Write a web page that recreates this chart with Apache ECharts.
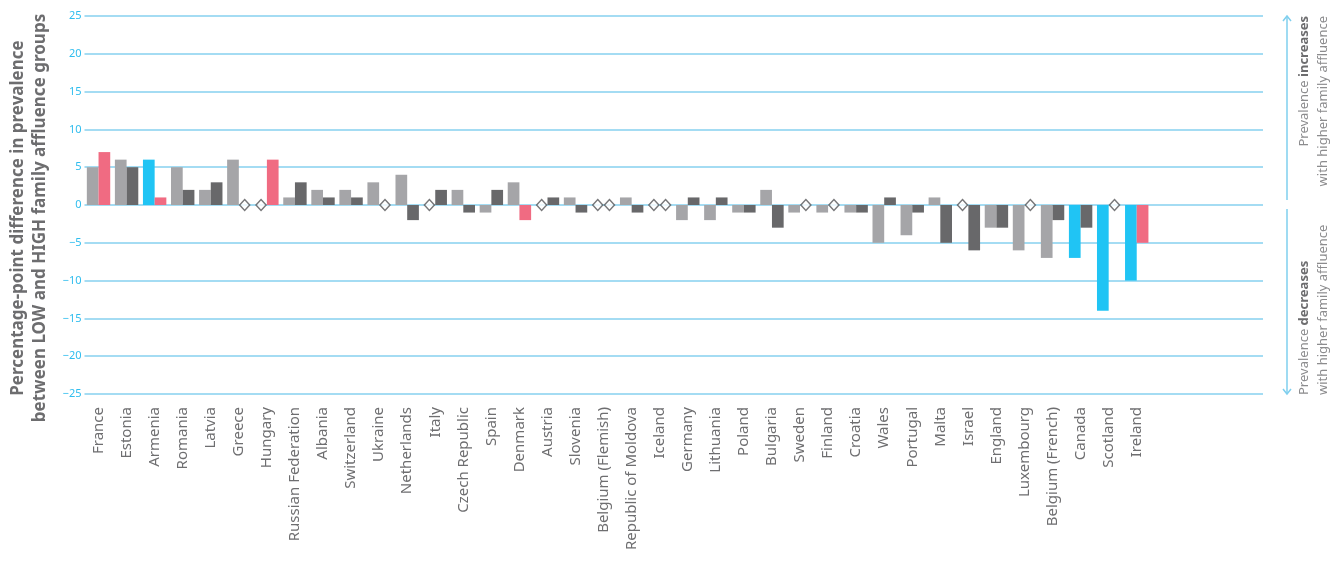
<!DOCTYPE html>
<html>
<head>
<meta charset="utf-8">
<script src="https://cdn.jsdelivr.net/npm/echarts@6/dist/echarts.min.js"></script>
<style>
  html, body { margin: 0; padding: 0; background: #fff; }
  #charts { width: 1341px; height: 570px; }
</style>
</head>
<body>
<div id="charts"></div>
<script>
var countries = ['France', 'Estonia', 'Armenia', 'Romania', 'Latvia', 'Greece', 'Hungary',
  'Russian Federation', 'Albania', 'Switzerland', 'Ukraine', 'Netherlands', 'Italy',
  'Czech Republic', 'Spain', 'Denmark', 'Austria', 'Slovenia', 'Belgium (Flemish)',
  'Republic of Moldova', 'Iceland', 'Germany', 'Lithuania', 'Poland', 'Bulgaria', 'Sweden',
  'Finland', 'Croatia', 'Wales', 'Portugal', 'Malta', 'Israel', 'England', 'Luxembourg',
  'Belgium (French)', 'Canada', 'Scotland', 'Ireland'];

// first bar of each pair (light grey, blue when significant)
var boys = [5, 6, 6, 5, 2, 6, 0, 1, 2, 2, 3, 4, 0, 2, -1, 3, 0, 1, 0, 1, 0, -2, -2, -1, 2, -1,
  -1, -1, -5, -4, 1, 0, -3, -6, -7, -7, -14, -10];
// second bar of each pair (dark grey, pink when significant)
var girls = [7, 5, 1, 2, 3, 0, 6, 3, 1, 1, 0, -2, 2, -1, 2, -2, 1, -1, 0, -1, 0, 1, 1, -1, -3, 0,
  0, -1, 1, -1, -5, -6, -3, 0, -2, -3, 0, -5];

var boysSig = ['Armenia', 'Canada', 'Scotland', 'Ireland'];
var girlsSig = ['France', 'Armenia', 'Hungary', 'Denmark', 'Ireland'];

var yTicks = [25, 20, 15, 10, 5, 0, -5, -10, -15, -20, -25];

var charts;

init();

function init() {
    var chartsDoc = document.getElementById('charts');
    charts = echarts.init(chartsDoc, null, {renderer: 'canvas'});
    charts.setOption(buildOption());
}

function barData(values, sigList, plain, hot) {
    var out = [];
    for (var i = 0; i < values.length; i++) {
        if (values[i] === 0) {
            out.push(null);   // zero -> drawn as a diamond instead
            continue;
        }
        var sig = sigList.indexOf(countries[i]) >= 0;
        out.push({value: values[i], itemStyle: {color: sig ? hot : plain}});
    }
    return out;
}

function zeroMarks(values) {
    var out = [];
    for (var i = 0; i < values.length; i++) {
        if (values[i] === 0) out.push([i, 0]);
    }
    return out;
}

function buildOption() {
    var cats = countries.slice();
    // empty space at the right end of the chart
    for (var k = 0; k < 4; k++) cats.push('');

    var font = '"Noto Sans", "Open Sans", sans-serif';
    var bw = 11.7;
    var arrowColor = '#7fcfee';
    var richNote = {
        a: {fill: '#8c8c8e', font: '13px ' + font, lineHeight: 19},
        b: {fill: '#6d6d6f', font: 'bold 13px ' + font, lineHeight: 19}
    };

    return {
        animation: false,
        backgroundColor: '#fff',
        grid: {left: 84.5, right: 78, top: 16, bottom: 176, containLabel: false},
        xAxis: {
            type: 'category',
            data: cats,
            axisLine: {show: false},
            axisTick: {show: false},
            axisLabel: {
                interval: 0,
                rotate: 90,
                margin: 13,
                color: '#6e6e70',
                fontSize: 15,
                fontFamily: font
            }
        },
        yAxis: {
            type: 'value',
            min: -25,
            max: 25,
            interval: 5,
            axisLine: {show: false},
            axisTick: {show: false},
            splitLine: {lineStyle: {color: '#a4dcf3', width: 2}},
            axisLabel: {
                margin: 3,
                color: '#2fbdee',
                fontSize: 11,
                fontFamily: font,
                formatter: function (v) {
                    return yTicks.indexOf(v) >= 0 ? String(v).replace('-', '\u2212') : '';
                }
            }
        },
        series: [
            {
                name: 'Boys',
                type: 'bar',
                barWidth: bw,
                barGap: '0%',
                data: barData(boys, boysSig, '#a5a5a8', '#20c4f4')
            },
            {
                name: 'Girls',
                type: 'bar',
                barWidth: bw,
                barGap: '0%',
                data: barData(girls, girlsSig, '#68686a', '#f06b82')
            },
            {
                type: 'scatter',
                symbol: 'diamond',
                symbolSize: [10, 11],
                symbolOffset: [-bw / 2, 0],
                itemStyle: {color: '#fff', borderColor: '#555557', borderWidth: 1.5},
                z: 5,
                data: zeroMarks(boys)
            },
            {
                type: 'scatter',
                symbol: 'diamond',
                symbolSize: [10, 11],
                symbolOffset: [bw / 2, 0],
                itemStyle: {color: '#fff', borderColor: '#555557', borderWidth: 1.5},
                z: 5,
                data: zeroMarks(girls)
            }
        ],
        graphic: [
            {
                type: 'text',
                x: 29, y: 218,
                rotation: Math.PI / 2,
                style: {
                    text: 'Percentage-point difference in prevalence\nbetween LOW and HIGH family affluence groups',
                    fill: '#6d6d6f',
                    font: 'bold 17px ' + font,
                    align: 'center',
                    verticalAlign: 'middle',
                    lineHeight: 22
                }
            },
            // arrows on the right
            {type: 'line', shape: {x1: 1287, y1: 17, x2: 1287, y2: 200}, style: {stroke: arrowColor, lineWidth: 1.5}},
            {type: 'polyline', shape: {points: [[1283, 21], [1287, 16], [1291, 21]]}, style: {stroke: arrowColor, lineWidth: 1.5, fill: null}},
            {type: 'line', shape: {x1: 1287, y1: 209, x2: 1287, y2: 393}, style: {stroke: arrowColor, lineWidth: 1.5}},
            {type: 'polyline', shape: {points: [[1283, 389], [1287, 394], [1291, 389]]}, style: {stroke: arrowColor, lineWidth: 1.5, fill: null}},
            {
                type: 'text',
                x: 1314, y: 16,
                rotation: Math.PI / 2,
                style: {
                    text: '{a|Prevalence }{b|increases}\n{a|with higher family affluence}',
                    align: 'right',
                    verticalAlign: 'middle',
                    lineHeight: 19,
                    rich: richNote
                }
            },
            {
                type: 'text',
                x: 1314, y: 395,
                rotation: Math.PI / 2,
                style: {
                    text: '{a|Prevalence }{b|decreases}\n{a|with higher family affluence}',
                    align: 'left',
                    verticalAlign: 'middle',
                    lineHeight: 19,
                    rich: richNote
                }
            }
        ]
    };
}
</script>
</body>
</html>
